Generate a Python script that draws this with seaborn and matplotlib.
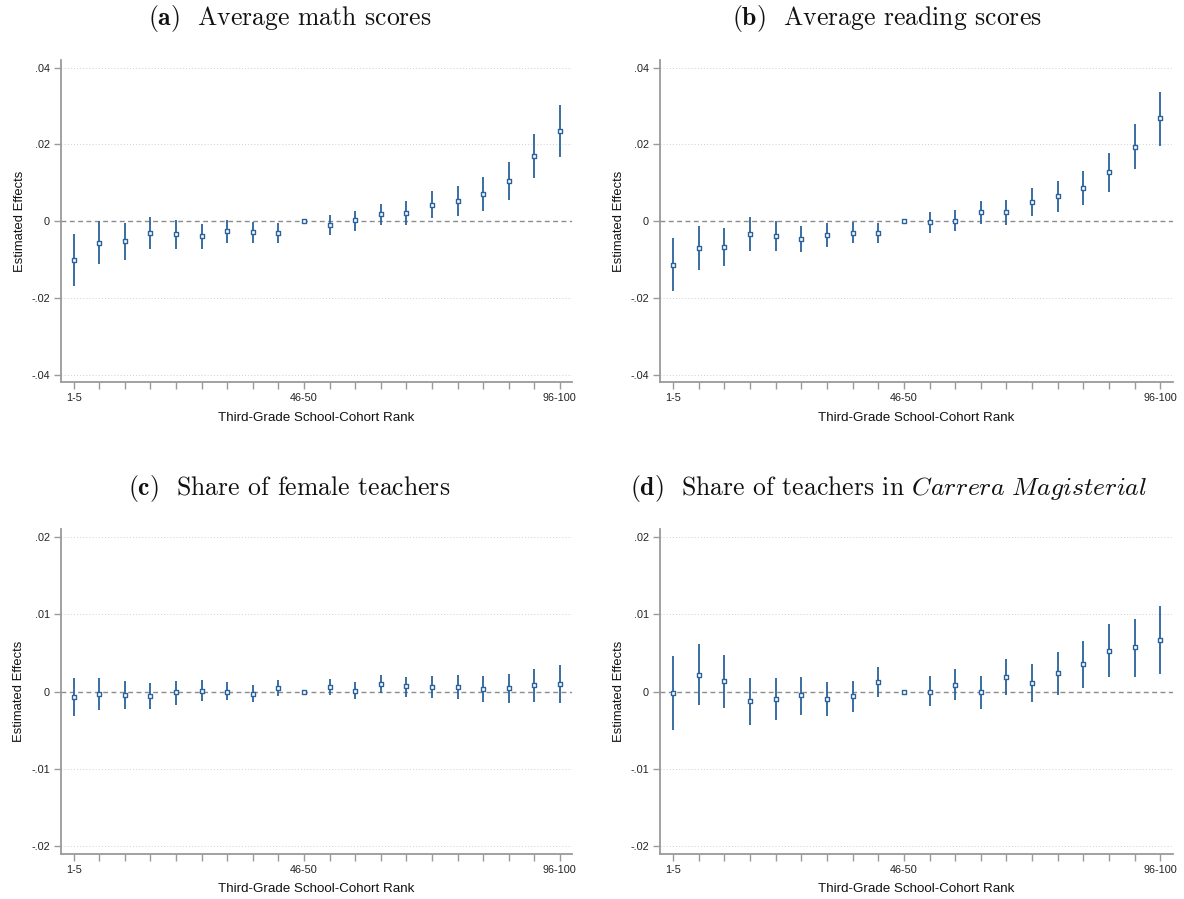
import numpy as np
import pandas as pd
import matplotlib
matplotlib.use("Agg")
import matplotlib.pyplot as plt
import seaborn as sns

# Rank bins (third-grade school-cohort percentile groups)
rank_bins = ["1-5", "6-10", "11-15", "16-20", "21-25", "26-30", "31-35", "36-40",
             "41-45", "46-50", "51-55", "56-60", "61-65", "66-70", "71-75", "76-80",
             "81-85", "86-90", "91-95", "96-100"]
shown_ticks = ["1-5", "46-50", "96-100"]

# (a) Average math scores
math_est = [-0.0102, -0.0057, -0.0053, -0.0030, -0.0034, -0.0039, -0.0026, -0.0029, -0.0030, 0.0,
            -0.0010, 0.0002, 0.0018, 0.0021, 0.0043, 0.0052, 0.0071, 0.0105, 0.0170, 0.0235]
math_lo = [-0.0170, -0.0112, -0.0102, -0.0073, -0.0073, -0.0073, -0.0057, -0.0057, -0.0057, np.nan,
           -0.0035, -0.0025, -0.0010, -0.0011, 0.0009, 0.0014, 0.0027, 0.0056, 0.0113, 0.0166]
math_hi = [-0.0034, 0.0000, -0.0005, 0.0011, 0.0003, -0.0007, 0.0003, -0.0002, -0.0005, np.nan,
           0.0016, 0.0027, 0.0046, 0.0052, 0.0078, 0.0091, 0.0115, 0.0155, 0.0226, 0.0303]

# (b) Average reading scores
read_est = [-0.0113, -0.0070, -0.0067, -0.0034, -0.0039, -0.0047, -0.0037, -0.0030, -0.0030, 0.0,
            -0.0003, 0.0001, 0.0023, 0.0023, 0.0050, 0.0065, 0.0086, 0.0128, 0.0194, 0.0268]
read_lo = [-0.0182, -0.0128, -0.0117, -0.0077, -0.0077, -0.0081, -0.0068, -0.0058, -0.0057, np.nan,
           -0.0030, -0.0026, -0.0007, -0.0010, 0.0014, 0.0024, 0.0041, 0.0077, 0.0137, 0.0197]
read_hi = [-0.0044, -0.0013, -0.0017, 0.0010, 0.0000, -0.0013, -0.0005, -0.0003, -0.0005, np.nan,
           0.0023, 0.0028, 0.0052, 0.0055, 0.0086, 0.0104, 0.0131, 0.0178, 0.0252, 0.0337]

# (c) Share of female teachers
fem_est = [-0.0007, -0.0003, -0.0005, -0.0006, -0.0001, 0.0001, 0.0000, -0.0003, 0.0005, 0.0,
           0.0006, 0.0001, 0.0010, 0.0007, 0.0006, 0.0006, 0.0003, 0.0004, 0.0009, 0.0010]
fem_lo = [-0.0032, -0.0024, -0.0023, -0.0023, -0.0017, -0.0012, -0.0011, -0.0014, -0.0006, np.nan,
          -0.0004, -0.0010, -0.0002, -0.0007, -0.0009, -0.0010, -0.0014, -0.0015, -0.0013, -0.0015]
fem_hi = [0.0018, 0.0017, 0.0013, 0.0011, 0.0013, 0.0015, 0.0012, 0.0009, 0.0015, np.nan,
          0.0016, 0.0012, 0.0021, 0.0019, 0.0020, 0.0021, 0.0020, 0.0023, 0.0029, 0.0034]

# (d) Share of teachers in Carrera Magisterial
cm_est = [-0.0002, 0.0022, 0.0013, -0.0012, -0.0010, -0.0005, -0.0010, -0.0006, 0.0012, 0.0,
          0.0000, 0.0009, -0.0001, 0.0019, 0.0011, 0.0024, 0.0036, 0.0053, 0.0057, 0.0067]
cm_lo = [-0.0050, -0.0017, -0.0021, -0.0043, -0.0037, -0.0030, -0.0032, -0.0027, -0.0007, np.nan,
         -0.0019, -0.0011, -0.0023, -0.0004, -0.0014, -0.0004, 0.0005, 0.0019, 0.0019, 0.0023]
cm_hi = [0.0046, 0.0061, 0.0047, 0.0018, 0.0017, 0.0019, 0.0012, 0.0013, 0.0032, np.nan,
         0.0020, 0.0029, 0.0020, 0.0042, 0.0036, 0.0051, 0.0066, 0.0087, 0.0094, 0.0111]

panels = [
    (r"$\mathbf{(a)}$  Average math scores", math_est, math_lo, math_hi,
     [0.04, 0.02, 0.0, -0.02, -0.04], [".04", ".02", "0", "-.02", "-.04"], 0.042),
    (r"$\mathbf{(b)}$  Average reading scores", read_est, read_lo, read_hi,
     [0.04, 0.02, 0.0, -0.02, -0.04], [".04", ".02", "0", "-.02", "-.04"], 0.042),
    (r"$\mathbf{(c)}$  Share of female teachers", fem_est, fem_lo, fem_hi,
     [0.02, 0.01, 0.0, -0.01, -0.02], [".02", ".01", "0", "-.01", "-.02"], 0.021),
    (r"$\mathbf{(d)}$  Share of teachers in $\mathit{Carrera\ Magisterial}$", cm_est, cm_lo, cm_hi,
     [0.02, 0.01, 0.0, -0.01, -0.02], [".02", ".01", "0", "-.01", "-.02"], 0.021),
]

sns.set_theme(style="white")
plt.rcParams["font.family"] = ["Liberation Sans", "DejaVu Sans"]
plt.rcParams["mathtext.fontset"] = "cm"

W, H = 1184, 899
fig = plt.figure(figsize=(W / 100, H / 100), dpi=100)
fig.patch.set_facecolor("white")

# axes boxes in pixels: left, right, top, bottom
boxes = [(60.9, 571.9, 60.0, 382.3), (660.1, 1172.5, 60.0, 382.3),
         (60.9, 571.9, 529.3, 853.7), (660.1, 1172.5, 529.3, 853.7)]
title_pos = [(290, 18), (887, 18), (289, 489), (889, 489)]

navy = "#2a629b"
axis_gray = "#9a9a9a"

for (title, est, lo, hi, yt, ytl, ylim), (l, r, t, b), (tx, ty) in zip(panels, boxes, title_pos):
    ax = fig.add_axes([l / W, 1 - b / H, (r - l) / W, (b - t) / H])
    df = pd.DataFrame({"rank": rank_bins, "pos": np.arange(1, len(rank_bins) + 1),
                       "est": est, "lo": lo, "hi": hi})

    for y in yt:
        if y != 0:
            ax.axhline(y, color="#cfcfcf", lw=0.7, ls=(0, (1, 2.2)), zorder=0)
    ax.axhline(0, color="#8c8c8c", lw=1.0, ls=(0, (3.5, 2.5)), zorder=1)

    ci = df.dropna(subset=["lo", "hi"])
    ax.vlines(ci["pos"], ci["lo"], ci["hi"], color=navy, lw=1.3, zorder=2)
    sns.scatterplot(data=df, x="pos", y="est", marker="s", s=10, facecolor="white",
                    edgecolor=navy, linewidth=1.0, ax=ax, zorder=3, legend=False)

    ax.set_xlim(0.5, 20.47)
    ax.set_ylim(-ylim, ylim)
    ax.set_xticks(df["pos"])
    ax.set_xticklabels([lab if lab in shown_ticks else "" for lab in df["rank"]])
    ax.set_yticks(yt)
    ax.set_yticklabels(ytl)
    ax.tick_params(axis="both", which="both", direction="out", length=5, width=1.0,
                   color=axis_gray, labelsize=7.8, labelcolor="#222222", pad=3,
                   bottom=True, left=True)
    for side in ["top", "right"]:
        ax.spines[side].set_visible(False)
    for side in ["left", "bottom"]:
        ax.spines[side].set_color(axis_gray)
        ax.spines[side].set_linewidth(1.3)
    ax.set_xlabel("Third-Grade School-Cohort Rank", fontsize=9.6, color="#111111", labelpad=6)
    ax.set_ylabel("Estimated Effects", fontsize=9.4, color="#111111", labelpad=4)
    ax.grid(False)

    fig.text(tx / W, 1 - ty / H, title, ha="center", va="center", fontsize=18.5,
             family="cmr10", color="#111111")

fig.savefig("out.png", dpi=100, facecolor="white")
